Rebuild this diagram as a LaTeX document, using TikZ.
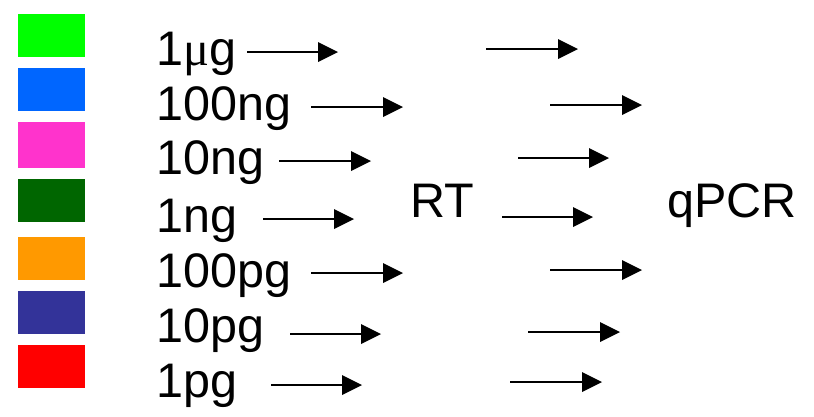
\documentclass[tikz,border=0pt]{standalone}
\usepackage{fontspec}
\setmainfont{Liberation Sans}
\newfontfamily\greekserif{Liberation Serif}
\usetikzlibrary{arrows.meta}

\definecolor{swA}{HTML}{00FF00}
\definecolor{swB}{HTML}{0066FF}
\definecolor{swC}{HTML}{FF33CC}
\definecolor{swD}{HTML}{006600}
\definecolor{swE}{HTML}{FF9900}
\definecolor{swF}{HTML}{333399}
\definecolor{swG}{HTML}{FF0000}

\tikzset{
  amount/.style={anchor=base west, inner sep=0pt, font=\fontsize{48.5}{48.5}\selectfont},
  stage/.style={anchor=base west, inner sep=0pt, font=\fontsize{48.5}{48.5}\selectfont},
  flow/.style={line width=2pt, -{Triangle[length=20pt,width=20pt,line width=0pt]}},
}

\begin{document}
\begin{tikzpicture}[x=1pt,y=-1pt]
  \useasboundingbox (0,0) rectangle (814,416);

  % colour swatches
  \fill[swA] (18,14)  rectangle (85,57);
  \fill[swB] (18,68)  rectangle (85,111);
  \fill[swC] (18,122) rectangle (85,168);
  \fill[swD] (18,179) rectangle (85,222);
  \fill[swE] (18,237) rectangle (85,280);
  \fill[swF] (18,291) rectangle (85,334);
  \fill[swG] (18,345) rectangle (85,388);

  % amount labels
  \node[amount] (l1) at (156,65)  {1{\greekserif μ}g};
  \node[amount] (l2) at (156,120) {100ng};
  \node[amount] (l3) at (156,174) {10ng};
  \node[amount] (l4) at (156,232) {1ng};
  \node[amount] (l5) at (156,287) {100pg};
  \node[amount] (l6) at (156,342) {10pg};
  \node[amount] (l7) at (156,397) {1pg};

  % stage labels
  \node[stage] (rt) at (410,217) {RT};
  \node[stage] (qpcr) at (667,217) {qPCR};

  % arrow end points, first column
  \coordinate (a1s) at (247,52);  \coordinate (a1e) at (338,52);
  \coordinate (a2s) at (311,107); \coordinate (a2e) at (403,107);
  \coordinate (a3s) at (279,161); \coordinate (a3e) at (371,161);
  \coordinate (a4s) at (263,219); \coordinate (a4e) at (354,219);
  \coordinate (a5s) at (311,273); \coordinate (a5e) at (403,273);
  \coordinate (a6s) at (290,334); \coordinate (a6e) at (381,334);
  \coordinate (a7s) at (271,385); \coordinate (a7e) at (362,385);

  % arrow end points, second column
  \coordinate (b1s) at (486,49);  \coordinate (b1e) at (578,49);
  \coordinate (b2s) at (550,105); \coordinate (b2e) at (642,105);
  \coordinate (b3s) at (518,158); \coordinate (b3e) at (609,158);
  \coordinate (b4s) at (502,217); \coordinate (b4e) at (593,217);
  \coordinate (b5s) at (550,270); \coordinate (b5e) at (642,270);
  \coordinate (b6s) at (528,332); \coordinate (b6e) at (620,332);
  \coordinate (b7s) at (510,382); \coordinate (b7e) at (602,382);

  \foreach \i in {1,...,7} {
    \draw[flow] (a\i s) -- (a\i e);
    \draw[flow] (b\i s) -- (b\i e);
  }
\end{tikzpicture}
\end{document}
